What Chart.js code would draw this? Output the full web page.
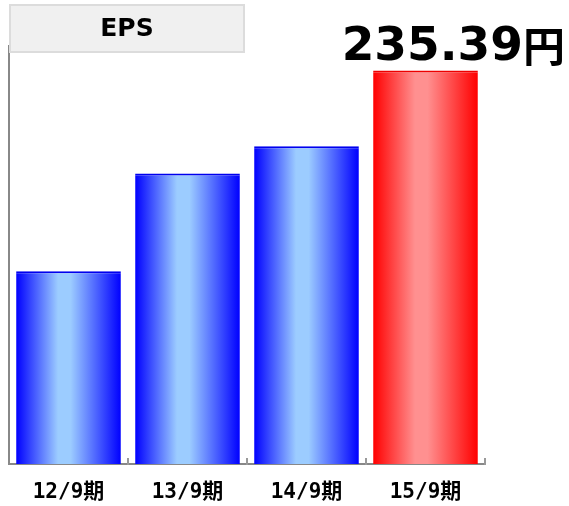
<!DOCTYPE html>
<html>
<head>
<meta charset="utf-8">
<script src="https://cdn.jsdelivr.net/npm/chart.js@4/dist/chart.umd.min.js"></script>
<style>
  html, body { margin: 0; padding: 0; background: #fff; }
  #wrap { width: 569px; height: 506px; }
</style>
</head>
<body>
<div id="wrap"><canvas id="eps"></canvas></div>
<script>
const periods = ['12/9期', '13/9期', '14/9期', '15/9期'];
const epsValues = [115.3, 173.7, 190.0, 235.39];
const chartTitle = 'EPS';
const latestLabel = '235.39';
const unit = '円';

function barGradient(ctx, left, right, edge, mid) {
  const g = ctx.createLinearGradient(left, 0, right, 0);
  g.addColorStop(0, edge);
  g.addColorStop(0.4, mid);
  g.addColorStop(0.52, mid);
  g.addColorStop(1, edge);
  return g;
}

function fillFor(context) {
  const chart = context.chart;
  const last = context.dataIndex === periods.length - 1;
  if (!chart.chartArea || !chart.scales.x) return last ? '#ff0000' : '#0000ff';
  const x = chart.scales.x;
  const cx = x.getPixelForValue(context.dataIndex);
  const half = (x.width / periods.length) * 0.88 / 2;
  return last
    ? barGradient(chart.ctx, cx - half, cx + half, '#ff0000', '#ff9090')
    : barGradient(chart.ctx, cx - half, cx + half, '#0000ff', '#9cccff');
}

const decorations = {
  id: 'decorations',
  beforeDraw(chart) {
    const c = chart.ctx;
    c.save();
    c.fillStyle = '#fff';
    c.fillRect(0, 0, chart.width, chart.height);
    c.restore();
  },
  afterDraw(chart) {
    const c = chart.ctx;
    const x = chart.scales.x;
    const bottom = chart.chartArea.bottom;
    const step = x.width / periods.length;
    c.save();
    // small ticks at category boundaries
    c.strokeStyle = '#999';
    c.lineWidth = 2;
    for (let i = 1; i <= periods.length; i++) {
      const px = Math.round(x.left + step * i);
      c.beginPath();
      c.moveTo(px, bottom - 6);
      c.lineTo(px, bottom + 1);
      c.stroke();
    }
    // title box
    c.fillStyle = '#f0f0f0';
    c.fillRect(10, 5, 234, 47);
    c.strokeStyle = '#dcdcdc';
    c.lineWidth = 2;
    c.strokeRect(10, 5, 234, 47);
    c.fillStyle = '#000';
    c.font = 'bold 25px "DejaVu Sans"';
    c.textAlign = 'center';
    c.textBaseline = 'middle';
    c.fillText(chartTitle, 127, 29);
    // latest value label above last bar
    const bar = chart.getDatasetMeta(0).data[periods.length - 1];
    const base = bar.y - 10;
    c.textAlign = 'right';
    c.textBaseline = 'alphabetic';
    c.font = 'bold 42px "Noto Sans CJK JP"';
    c.fillText(unit, 565, base + 2);
    const uw = c.measureText(unit).width;
    c.font = 'bold 47px "DejaVu Sans"';
    c.fillText(latestLabel, 565 - uw, base);
    c.restore();
  }
};

new Chart(document.getElementById('eps'), {
  type: 'bar',
  data: {
    labels: periods,
    datasets: [{
      data: epsValues,
      backgroundColor: fillFor,
      borderColor: (ctx) => ctx.dataIndex === periods.length - 1 ? '#ee0000' : '#0000ee',
      borderWidth: { top: 2, left: 0, right: 0, bottom: 0 },
      borderSkipped: 'start',
      categoryPercentage: 1,
      barPercentage: 0.88
    }]
  },
  options: {
    responsive: true,
    maintainAspectRatio: false,
    animation: false,
    layout: { padding: { top: 46, left: 9, right: 84, bottom: 0 } },
    plugins: { legend: { display: false }, tooltip: { enabled: false } },
    scales: {
      x: {
        afterFit(scale) { scale.height = 42; },
        grid: { display: false, drawTicks: false },
        border: { display: true, color: '#888', width: 2 },
        ticks: {
          color: '#000',
          padding: 16,
          font: { family: '"DejaVu Sans Mono", "Noto Sans CJK JP"', size: 21, weight: 'bold' }
        }
      },
      y: {
        min: 0,
        max: 250,
        grid: { display: false, drawTicks: false },
        border: { display: true, color: '#888', width: 2 },
        ticks: { display: false }
      }
    }
  },
  plugins: [decorations]
});
</script>
</body>
</html>
